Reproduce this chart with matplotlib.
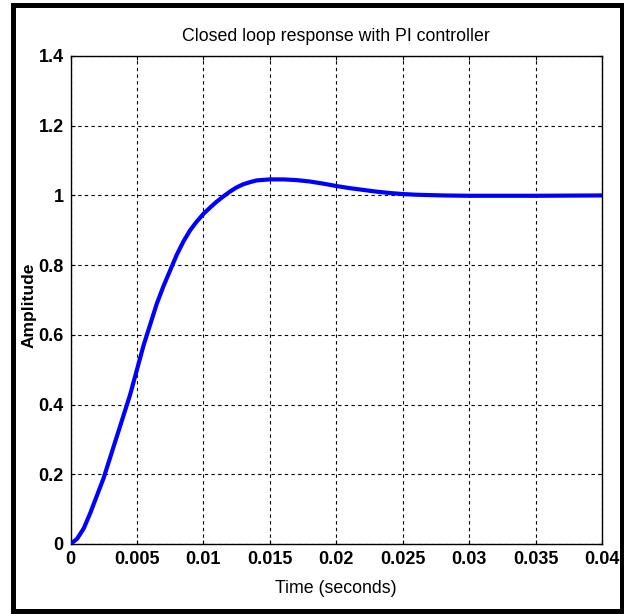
import matplotlib
matplotlib.use("Agg")
import matplotlib.pyplot as plt
from matplotlib.patches import Rectangle

# Closed-loop step response samples (time in seconds, amplitude)
time_s = [0, 0.0005, 0.001, 0.0015, 0.002, 0.0025, 0.003, 0.0035, 0.004,
          0.0045, 0.005, 0.0055, 0.006, 0.0065, 0.007, 0.0075, 0.008,
          0.0085, 0.009, 0.0095, 0.01, 0.0105, 0.011, 0.0115, 0.012,
          0.0125, 0.013, 0.0135, 0.014, 0.015, 0.016, 0.017, 0.018,
          0.019, 0.02, 0.021, 0.022, 0.023, 0.024, 0.025, 0.026,
          0.028, 0.03, 0.035, 0.04]
amplitude = [0, 0.015, 0.045, 0.09, 0.14, 0.19, 0.25, 0.31, 0.37,
             0.43, 0.5, 0.57, 0.63, 0.69, 0.74, 0.785, 0.83,
             0.868, 0.9, 0.925, 0.947, 0.965, 0.982, 0.997, 1.011,
             1.023, 1.032, 1.038, 1.043, 1.046, 1.046, 1.044, 1.04,
             1.034, 1.027, 1.021, 1.016, 1.011, 1.007, 1.004, 1.002,
             1.0, 0.999, 0.999, 1.0]

x_ticks = [0, 0.005, 0.01, 0.015, 0.02, 0.025, 0.03, 0.035, 0.04]
x_tick_labels = ["0", "0.005", "0.01", "0.015", "0.02", "0.025", "0.03", "0.035", "0.04"]
y_ticks = [0, 0.2, 0.4, 0.6, 0.8, 1.0, 1.2, 1.4]
y_tick_labels = ["0", "0.2", "0.4", "0.6", "0.8", "1", "1.2", "1.4"]

plt.rcParams['font.family'] = ['Liberation Sans', 'DejaVu Sans']

W, H = 624, 614
fig = plt.figure(figsize=(W / 100, H / 100), dpi=100)
fig.patch.set_facecolor("white")

left, right, top, bottom = 70.5, 602, 56, 544
ax = fig.add_axes([left / W, 1 - bottom / H, (right - left) / W, (bottom - top) / H])

ax.plot(time_s, amplitude, color=(0, 0, 1), linewidth=3.0,
        solid_capstyle="round", solid_joinstyle="round", zorder=3)

ax.set_xlim(0, 0.04)
ax.set_ylim(0, 1.4)
ax.set_xticks(x_ticks)
ax.set_xticklabels(x_tick_labels)
ax.set_yticks(y_ticks)
ax.set_yticklabels(y_tick_labels)
ax.grid(True, color="black", linestyle=(0, (3, 3)), linewidth=0.8)
ax.tick_params(direction="in", length=3, width=0.8, top=True, right=True,
               labelsize=13, pad=5)
for lab in ax.get_xticklabels() + ax.get_yticklabels():
    lab.set_fontweight("bold")
for sp in ax.spines.values():
    sp.set_linewidth(1.0)
    sp.set_color("black")

ax.set_title("Closed loop response with PI controller", fontsize=12.8, pad=11)
ax.set_xlabel("Time (seconds)", fontsize=12.8, labelpad=9)

# Vertical axis label placed in figure pixels, left of the tick labels
fig.text(29 / W, 1 - 305 / H, "Amplitude", rotation=90, fontsize=12.5,
         fontweight="bold", ha="center", va="center")

# Black frame around the whole figure
fig.patches.append(Rectangle((12.5 / W, 1 - 610.5 / H), (621.5 - 12.5) / W, (610.5 - 5) / H,
                             transform=fig.transFigure, fill=False,
                             edgecolor="black", linewidth=3.6))

fig.savefig("out.png", dpi=100)
